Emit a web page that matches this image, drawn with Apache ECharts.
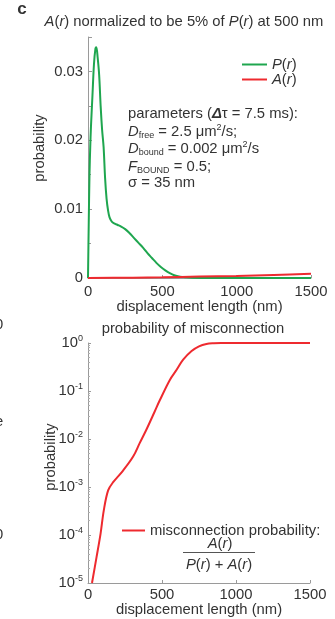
<!DOCTYPE html>
<html>
<head>
<meta charset="utf-8">
<script src="https://cdn.jsdelivr.net/npm/echarts@6/dist/echarts.min.js"></script>
<style>
html,body{margin:0;padding:0;background:#fff;}
#c{width:335px;height:619px;}
</style>
</head>
<body>
<div id="c"></div>
<script>
// ---- data ----
const rP = [0,5,10,15,20,30,40,50,56,65,75,85,95,105,115,125,135,145,160,180,200,220,250,280,310,340,370,400,430,460,490,520,550,580,620,660,700,760,850,1500];
const P  = [0,0.008,0.015,0.019,0.022,0.0265,0.031,0.0333,0.0335,0.032,0.0295,0.025,0.0215,0.019,0.0145,0.0115,0.0098,0.0088,0.0082,0.0079,0.0077,0.0075,0.0071,0.0065,0.0058,0.0051,0.0044,0.0036,0.0029,0.0022,0.0016,0.0011,0.0007,0.0004,0.0002,0.0001,0.00004,0.00001,0,0];
const rA = [0,300,500,750,1000,1250,1500];
const A  = [0,0.00005,0.0001,0.0002,0.0003,0.00045,0.0006];
const rM = [27,58,85,107,136,170,237,305,350,395,450,485,553,600,643,700,750,800,850,900,1500];
const M  = [1.0e-5,3.5e-5,1.07e-4,3.3e-4,8.5e-4,1.26e-3,2.2e-3,4.3e-3,8.3e-3,0.0158,0.037,0.064,0.17,0.28,0.45,0.68,0.85,0.955,0.99,1.0,1.0];
const xTicks = [0,500,1000,1500];
const yTicksTop = [0,0.01,0.02,0.03];
const logTicks = [1e-5,1e-4,1e-3,1e-2,1e-1,1];

const pair = (xs, ys) => xs.map((x,i)=>[x,ys[i]]);
const FONT = "'Liberation Sans', Arial, Helvetica, sans-serif";
const FS = 14.8;
const TXT = '#333';
const AX = '#9a9a9a';
const GREEN = '#1fa64f';
const RED = '#ee2a2f';

const chart = echarts.init(document.getElementById('c'), null, {renderer:'canvas'});

const baseRich = {
  i:{fontStyle:'italic', fontSize:FS, fontFamily:FONT, color:TXT},
  n:{fontSize:FS, fontFamily:FONT, color:TXT},
  bi:{fontStyle:'italic', fontWeight:'bold', fontSize:FS, fontFamily:FONT, color:TXT},
  sub:{fontSize:9, fontFamily:FONT, color:TXT, padding:[8,0,0,0]},
  sup:{fontSize:9, fontFamily:FONT, color:TXT, padding:[0,0,8,0]}
};

function txt(x, y, text, opts) {
  opts = opts || {};
  return {
    type:'text', x:x, y:y, rotation: opts.rotation || 0,
    style:{
      text:text, fill:TXT, fontSize: opts.fontSize || FS, fontFamily:FONT,
      fontWeight: opts.fontWeight || 'normal',
      align: opts.align || 'left', verticalAlign:'middle', rich: baseRich
    }
  };
}

const xAxisCommon = {
  type:'value', min:0, max:1500, interval:500,
  axisLine:{show:true, lineStyle:{color:AX, width:1}},
  axisTick:{show:true, inside:true, length:3, lineStyle:{color:AX}},
  splitLine:{show:false},
  nameLocation:'middle',
  name:'displacement length (nm)',
  nameTextStyle:{color:TXT, fontSize:FS, fontFamily:FONT}
};
const xLabel = m => ({color:TXT, fontSize:FS, fontFamily:FONT, margin:m, formatter: v => String(v)});

const option = {
  animation:false,
  backgroundColor:'#fff',
  grid:[
    {left:88, right:24, top:37, height:241},
    {left:88, right:25, top:343, height:240}
  ],
  xAxis:[
    Object.assign({}, xAxisCommon, {gridIndex:0, nameGap:21, axisLabel:xLabel(6)}),
    Object.assign({}, xAxisCommon, {gridIndex:1, nameGap:18, axisLabel:xLabel(4)})
  ],
  yAxis:[
    {
      type:'value', gridIndex:0, min:0, max:0.035, interval:0.01,
      axisLine:{show:true, lineStyle:{color:AX}},
      axisTick:{show:true, inside:true, length:4, lineStyle:{color:AX}},
      minorTick:{show:true, splitNumber:2, length:3, lineStyle:{color:AX}},
      splitLine:{show:false},
      axisLabel:{color:TXT, fontSize:FS, fontFamily:FONT, margin:5,
        formatter: v => {
          if (v === 0) return '0';
          if (yTicksTop.some(t => Math.abs(t - v) < 1e-9)) return String(+v.toFixed(2));
          return '';
        }}
    },
    {
      type:'log', gridIndex:1, min:logTicks[0], max:logTicks[logTicks.length-1], logBase:10,
      axisLine:{show:true, lineStyle:{color:AX}},
      axisTick:{show:true, inside:true, length:3, lineStyle:{color:AX}},
      minorTick:{show:true, splitNumber:9, length:2, lineStyle:{color:'#b0b0b0'}},
      splitLine:{show:false},
      axisLabel:{color:TXT, fontSize:FS, fontFamily:FONT, margin:5,
        formatter: v => {
          const e = Math.round(Math.log10(v));
          return '{b|10}{s|' + e + '}';
        },
        rich:{
          b:{fontSize:FS, fontFamily:FONT, color:TXT},
          s:{fontSize:9, fontFamily:FONT, color:TXT, padding:[0,0,8,0]}
        }}
    }
  ],
  legend:[
    {
      data:['P(r)','A(r)'], orient:'vertical', left:237, top:52,
      icon:'rect', itemWidth:25, itemHeight:2, itemGap:0,
      textStyle:{color:TXT, fontSize:FS, fontFamily:FONT, lineHeight:12,
        rich:{i:{fontStyle:'italic', fontSize:FS, fontFamily:FONT, color:TXT, lineHeight:12},
              n:{fontSize:FS, fontFamily:FONT, color:TXT, lineHeight:12}}},
      formatter: name => '{i|' + name[0] + '}{n|(}{i|r}{n|)}'
    },
    {
      data:['misconnection probability:'], left:117, top:518,
      icon:'rect', itemWidth:23, itemHeight:2,
      textStyle:{color:TXT, fontSize:FS, fontFamily:FONT}
    }
  ],
  series:[
    {name:'P(r)', type:'line', xAxisIndex:0, yAxisIndex:0, data:pair(rP,P),
     showSymbol:false, smooth:0.35, color:GREEN, lineStyle:{color:GREEN, width:2}, clip:true},
    {name:'A(r)', type:'line', xAxisIndex:0, yAxisIndex:0, data:pair(rA,A),
     showSymbol:false, smooth:0.3, color:RED, lineStyle:{color:RED, width:2}, clip:true},
    {name:'misconnection probability:', type:'line', xAxisIndex:1, yAxisIndex:1, data:pair(rM,M),
     showSymbol:false, smooth:0.35, color:RED, lineStyle:{color:RED, width:2}, clip:true}
  ],
  graphic:[
    txt(22, 9, 'c', {fontWeight:'bold', fontSize:17, align:'center'}),
    txt(184, 22, '{i|A}{n|(}{i|r}{n|) normalized to be 5% of }{i|P}{n|(}{i|r}{n|) at 500 nm}', {align:'center'}),
    txt(128, 114, '{n|parameters (}{bi|Δ}{n|τ = 7.5 ms):}'),
    txt(128, 132, '{i|D}{sub|free}{n| = 2.5 μm}{sup|2}{n|/s;}'),
    txt(128, 149, '{i|D}{sub|bound}{n| = 0.002 μm}{sup|2}{n|/s}'),
    txt(128, 166.5, '{i|F}{sub|BOUND}{n| = 0.5;}'),
    txt(128, 183, '{n|σ = 35 nm}'),
    txt(40, 148, 'probability', {rotation:Math.PI/2, align:'center'}),
    txt(193, 329, 'probability of misconnection', {align:'center'}),
    txt(51, 457, 'probability', {rotation:Math.PI/2, align:'center'}),
    txt(220, 544, '{i|A}{n|(}{i|r}{n|)}', {align:'center'}),
    {type:'line', shape:{x1:183, y1:552.5, x2:255, y2:552.5}, style:{stroke:'#555', lineWidth:1}},
    txt(219, 565, '{i|P}{n|(}{i|r}{n|) + }{i|A}{n|(}{i|r}{n|)}', {align:'center'}),
    txt(-5, 325, '0'),
    txt(-5, 422, 'e'),
    txt(-5, 535, '0')
  ]
};
chart.setOption(option);
</script>
</body>
</html>
